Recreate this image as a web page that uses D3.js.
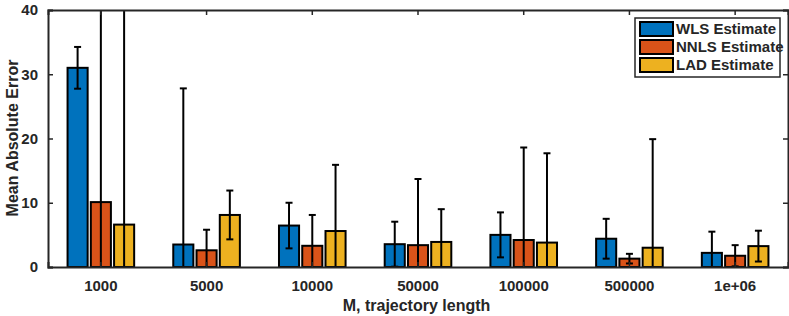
<!DOCTYPE html>
<style>
body { margin: 0; background: #fff; }
text { font-family: "Liberation Sans", Arial, sans-serif; font-weight: bold; fill: #262626; }
</style>
<svg width="789" height="316"></svg>
<script src="https://cdn.jsdelivr.net/npm/d3@7/dist/d3.min.js"></script>
<script>

var categories = ["1000", "5000", "10000", "50000", "100000", "500000", "1e+06"];
var series = ["WLS Estimate", "NNLS Estimate", "LAD Estimate"];
var colors = ["#0072BD", "#D95319", "#EDB120"];

// mean values per series
var wlsMean  = [31.0, 3.5, 6.45, 3.55, 5.0, 4.4, 2.2];
var nnlsMean = [10.1, 2.6, 3.3, 3.4, 4.2, 1.3, 1.75];
var ladMean  = [6.6, 8.1, 5.6, 3.9, 3.8, 3.0, 3.25];
// symmetric error half-widths
var wlsErr  = [3.25, 24.3, 3.55, 3.5, 3.5, 3.1, 3.3];
var nnlsErr = [34.0, 3.2, 4.8, 10.3, 14.4, 0.75, 1.65];
var ladErr  = [38.0, 3.8, 10.3, 5.1, 13.9, 16.9, 2.4];

var yTicks = [0, 10, 20, 30, 40];

var means = [wlsMean, nnlsMean, ladMean],
    errs = [wlsErr, nnlsErr, ladErr];

var svg = d3.select("svg"),
    margin = {top: 10, right: 1, bottom: 49, left: 48},
    width = +svg.attr("width") - margin.left - margin.right,
    height = +svg.attr("height") - margin.top - margin.bottom,
    g = svg.append("g").attr("transform", "translate(" + margin.left + "," + margin.top + ")");

var x0 = d3.scaleBand()
    .domain(categories)
    .range([0, width])
    .padding(0);

var x1 = d3.scalePoint()
    .domain(series)
    .range([-0.22 * x0.bandwidth(), 0.22 * x0.bandwidth()]);

var barW = 0.19 * x0.bandwidth();

var y = d3.scaleLinear()
    .domain([0, 40])
    .range([height, 0]);

var rows = [];
categories.forEach(function(c, i) {
  series.forEach(function(s, j) {
    rows.push({cat: c, key: s, idx: j, mean: means[j][i], err: errs[j][i]});
  });
});

svg.append("defs").append("clipPath")
    .attr("id", "plot")
  .append("rect")
    .attr("width", width)
    .attr("height", height);

var plot = g.append("g").attr("clip-path", "url(#plot)");

plot.selectAll("rect.bar")
  .data(rows)
  .enter().append("rect")
    .attr("class", "bar")
    .attr("x", function(d) { return x0(d.cat) + x0.bandwidth() / 2 + x1(d.key) - barW / 2; })
    .attr("y", function(d) { return y(d.mean); })
    .attr("width", barW)
    .attr("height", function(d) { return y(0) - y(d.mean); })
    .attr("fill", function(d) { return colors[d.idx]; })
    .attr("stroke", "#000")
    .attr("stroke-width", 2);

var eb = plot.selectAll("g.err")
  .data(rows)
  .enter().append("g")
    .attr("class", "err")
    .attr("transform", function(d) { return "translate(" + (x0(d.cat) + x0.bandwidth() / 2 + x1(d.key)) + ",0)"; })
    .attr("stroke", "#000")
    .attr("stroke-width", 2);

eb.append("line")
    .attr("y1", function(d) { return y(d.mean - d.err); })
    .attr("y2", function(d) { return y(d.mean + d.err); });

eb.append("line")
    .attr("x1", -3.5).attr("x2", 3.5)
    .attr("y1", function(d) { return y(d.mean + d.err); })
    .attr("y2", function(d) { return y(d.mean + d.err); });

eb.append("line")
    .attr("x1", -3.5).attr("x2", 3.5)
    .attr("y1", function(d) { return y(d.mean - d.err); })
    .attr("y2", function(d) { return y(d.mean - d.err); });

// axes (box on, ticks inside)
var axBottom = g.append("g")
    .attr("transform", "translate(0," + height + ")")
    .call(d3.axisBottom(x0).tickSize(-5).tickPadding(10));

var axTop = g.append("g")
    .call(d3.axisTop(x0).tickSize(-5).tickFormat(""));

var axLeft = g.append("g")
    .call(d3.axisLeft(y).tickValues(yTicks).tickSize(-5).tickPadding(10));

var axRight = g.append("g")
    .attr("transform", "translate(" + width + ",0)")
    .call(d3.axisRight(y).tickValues(yTicks).tickSize(-5).tickFormat(""));

[axBottom, axTop, axLeft, axRight].forEach(function(a) {
  a.select(".domain").attr("stroke", "#262626").attr("stroke-width", 2);
  a.selectAll(".tick line").attr("stroke", "#262626").attr("stroke-width", 1.5);
  a.attr("font-family", null).attr("font-size", null);
  a.selectAll("text").attr("font-size", 15).attr("fill", "#262626");
});
axBottom.selectAll(".tick text").attr("dy", "0.9em");

g.append("text")
    .attr("x", width / 2 - 1.5)
    .attr("y", height + 43.5)
    .attr("text-anchor", "middle")
    .attr("font-size", 16)
    .text("M, trajectory length");

g.append("text")
    .attr("transform", "rotate(-90)")
    .attr("x", -height / 2 + 0.5)
    .attr("y", -30)
    .attr("text-anchor", "middle")
    .attr("font-size", 16)
    .text("Mean Absolute Error");

// legend
var legend = svg.append("g")
    .attr("transform", "translate(635,18)");

legend.append("rect")
    .attr("width", 145)
    .attr("height", 59)
    .attr("fill", "#fff")
    .attr("stroke", "#262626")
    .attr("stroke-width", 1.5);

var item = legend.selectAll("g.item")
  .data(series)
  .enter().append("g")
    .attr("class", "item")
    .attr("transform", function(d, i) { return "translate(5," + (4 + i * 18) + ")"; });

item.append("rect")
    .attr("width", 33)
    .attr("height", 14)
    .attr("fill", function(d, i) { return colors[i]; })
    .attr("stroke", "#000")
    .attr("stroke-width", 2);

item.append("text")
    .attr("x", 36)
    .attr("y", 7)
    .attr("dy", "0.35em")
    .attr("font-size", 15)
    .attr("fill", "#000")
    .text(function(d) { return d; });

</script>
